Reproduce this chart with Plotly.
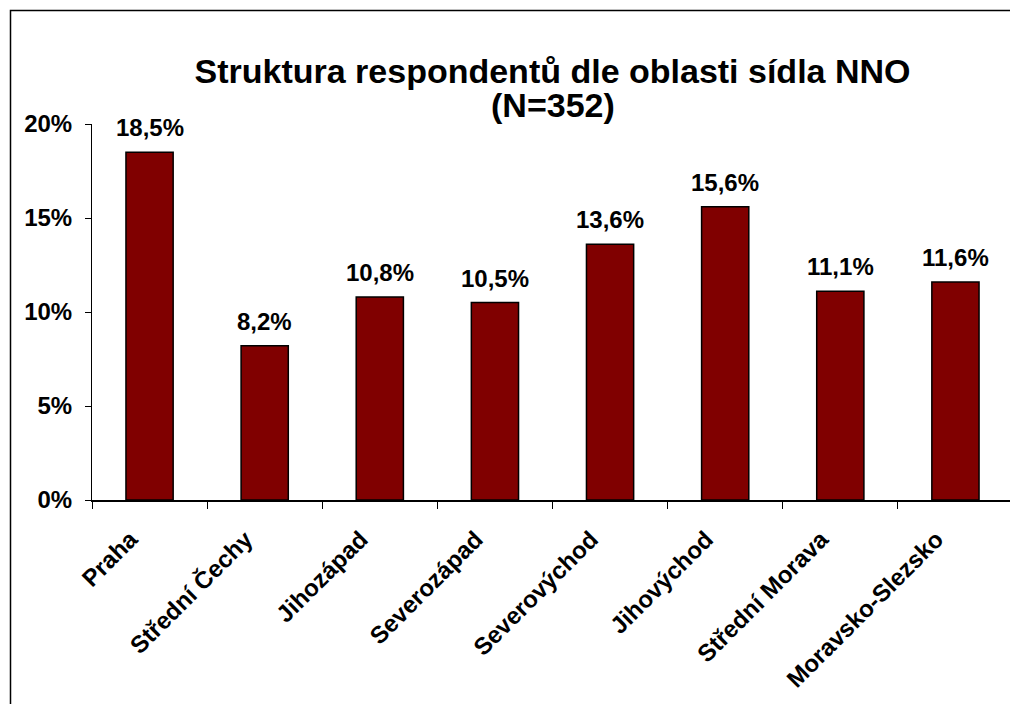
import plotly.graph_objects as go

categories = ["Praha", "Střední Čechy", "Jihozápad", "Severozápad", "Severovýchod",
              "Jihovýchod", "Střední Morava", "Moravsko-Slezsko"]
values = [18.5, 8.2, 10.8, 10.5, 13.6, 15.6, 11.1, 11.6]
y_ticks = [0, 5, 10, 15, 20]
y_tick_labels = ["0%", "5%", "10%", "15%", "20%"]
title_main = "Struktura respondentů dle oblasti sídla NNO"
title_sub = "(N=352)"

labels = ["<b>" + f"{v:.1f}%".replace(".", ",") + "</b>" for v in values]

# page body has an 8px margin, so the figure is laid out 8px smaller
W, H = 1010, 696
ml, mr, mt, mb = 84, 5, 116, 204
pw, ph = W - ml - mr, H - mt - mb

FONT = "Liberation Sans, Arial, sans-serif"

fig = go.Figure(go.Bar(
    x=categories, y=values,
    marker=dict(color="#800000", line=dict(color="black", width=1.5)),
    width=0.41, cliponaxis=False,
))

for c, v, t in zip(categories, values, labels):
    fig.add_annotation(x=c, y=v, text=t, showarrow=False, yanchor="bottom",
                       xanchor="center", yshift=9,
                       font=dict(family=FONT, size=24, color="black"))

# second title line, placed close under the first one
fig.add_annotation(xref="paper", yref="paper", x=0.5, y=(H - mb - 97) / ph,
                   xanchor="center", yanchor="middle", showarrow=False,
                   text="<b>" + title_sub + "</b>",
                   font=dict(family=FONT, size=34, color="black"))

fig.update_layout(
    width=W, height=H,
    margin=dict(l=ml, r=mr, t=mt, b=mb, autoexpand=False),
    paper_bgcolor="white", plot_bgcolor="white",
    font=dict(family=FONT, color="black"),
    showlegend=False,
    title=dict(text="<b>" + title_main + "</b>",
               x=(ml + pw / 2) / W, xanchor="center", y=1 - 63 / H, yanchor="middle",
               font=dict(family=FONT, size=34, color="black")),
    xaxis=dict(showline=True, linecolor="black", linewidth=1.5, ticks="outside",
               tickson="boundaries", ticklen=7, tickcolor="black", tickwidth=1,
               tickangle=-45, tickfont=dict(family=FONT, size=24, color="black"),
               ticklabelstandoff=14, ticklabelshift=-19, automargin=False,
               tickprefix="<b>", ticksuffix="</b>",
               showgrid=False, zeroline=False),
    yaxis=dict(range=[0, 20], tickvals=y_ticks,
               ticktext=["<b>" + t + "</b>" for t in y_tick_labels],
               showline=True, linecolor="black", linewidth=1, ticks="outside",
               ticklen=6, tickcolor="black", showgrid=False, zeroline=False,
               ticklabelstandoff=8, automargin=False,
               tickfont=dict(family=FONT, size=24, color="black")),
    shapes=[dict(type="rect", xref="paper", yref="paper",
                 x0=(2.5 - ml) / pw, x1=(W + 30 - ml) / pw,
                 y0=(H - mb - (H + 30)) / ph, y1=(H - mb - 2.5) / ph,
                 line=dict(color="black", width=1.5), fillcolor="rgba(0,0,0,0)",
                 layer="below")],
)

fig.write_html("out.html")
